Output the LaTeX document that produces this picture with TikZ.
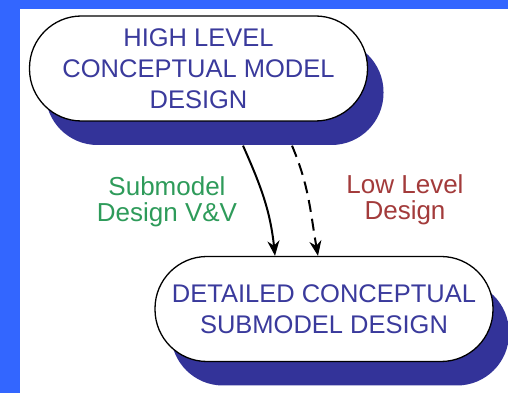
\documentclass[tikz,border=0pt]{standalone}
\usepackage{fontspec}
\setmainfont{Liberation Sans}
\usetikzlibrary{arrows.meta,shadows}

\definecolor{frameblue}{HTML}{3366FF}
\definecolor{shadowblue}{HTML}{333399}
\definecolor{textblue}{HTML}{3A3A9C}
\definecolor{vvgreen}{HTML}{2E9B5A}
\definecolor{lowred}{HTML}{A33B3B}

\begin{document}
\begin{tikzpicture}[x=1pt,y=1pt,
    >={Stealth[length=15pt,width=12pt]},
    stadium/.style = {
      draw,
      line width = 1.3pt,
      fill = white,
      rounded corners = 52pt,
      minimum width = 338pt,
      minimum height = 105pt,
      inner sep = 0pt,
      align = center,
      text = textblue,
      font = \fontsize{25.5}{31}\selectfont,
      drop shadow = {shadow xshift=16pt, shadow yshift=-24pt,
        fill=shadowblue, opacity=1}
    },
    lbl/.style = {
      align = center,
      font = \fontsize{26}{26.5}\selectfont
    },
    flow/.style = {
      ->,
      line width = 2pt
    }
  ]
  \useasboundingbox (0,0) rectangle (508,393);
  \fill[frameblue] (0,0) rectangle (508,393);
  \fill[white] (20,0) rectangle (508,384);

  \node[stadium] (hl) at (198.5,324.5) {HIGH LEVEL\\CONCEPTUAL MODEL\\DESIGN};
  \node[stadium] (dc) at (324,84) {DETAILED CONCEPTUAL\\SUBMODEL DESIGN};

  \coordinate (vvs) at ([shift={(44.5,-24)}]hl.south);
  \coordinate (lls) at ([shift={(93.5,-24)}]hl.south);

  \draw[flow] (vvs) to[out=-66,in=96] ([xshift=-49pt]dc.north);
  \draw[flow, dash pattern=on 12pt off 7pt] (lls) to[out=-67,in=100] ([xshift=-6pt]dc.north);

  \node[lbl, text=vvgreen] (vv) at (167,191) {Submodel\\Design V\&V};
  \node[lbl, text=lowred] (ll) at (405,193.2) {Low Level\\Design};
\end{tikzpicture}
\end{document}
